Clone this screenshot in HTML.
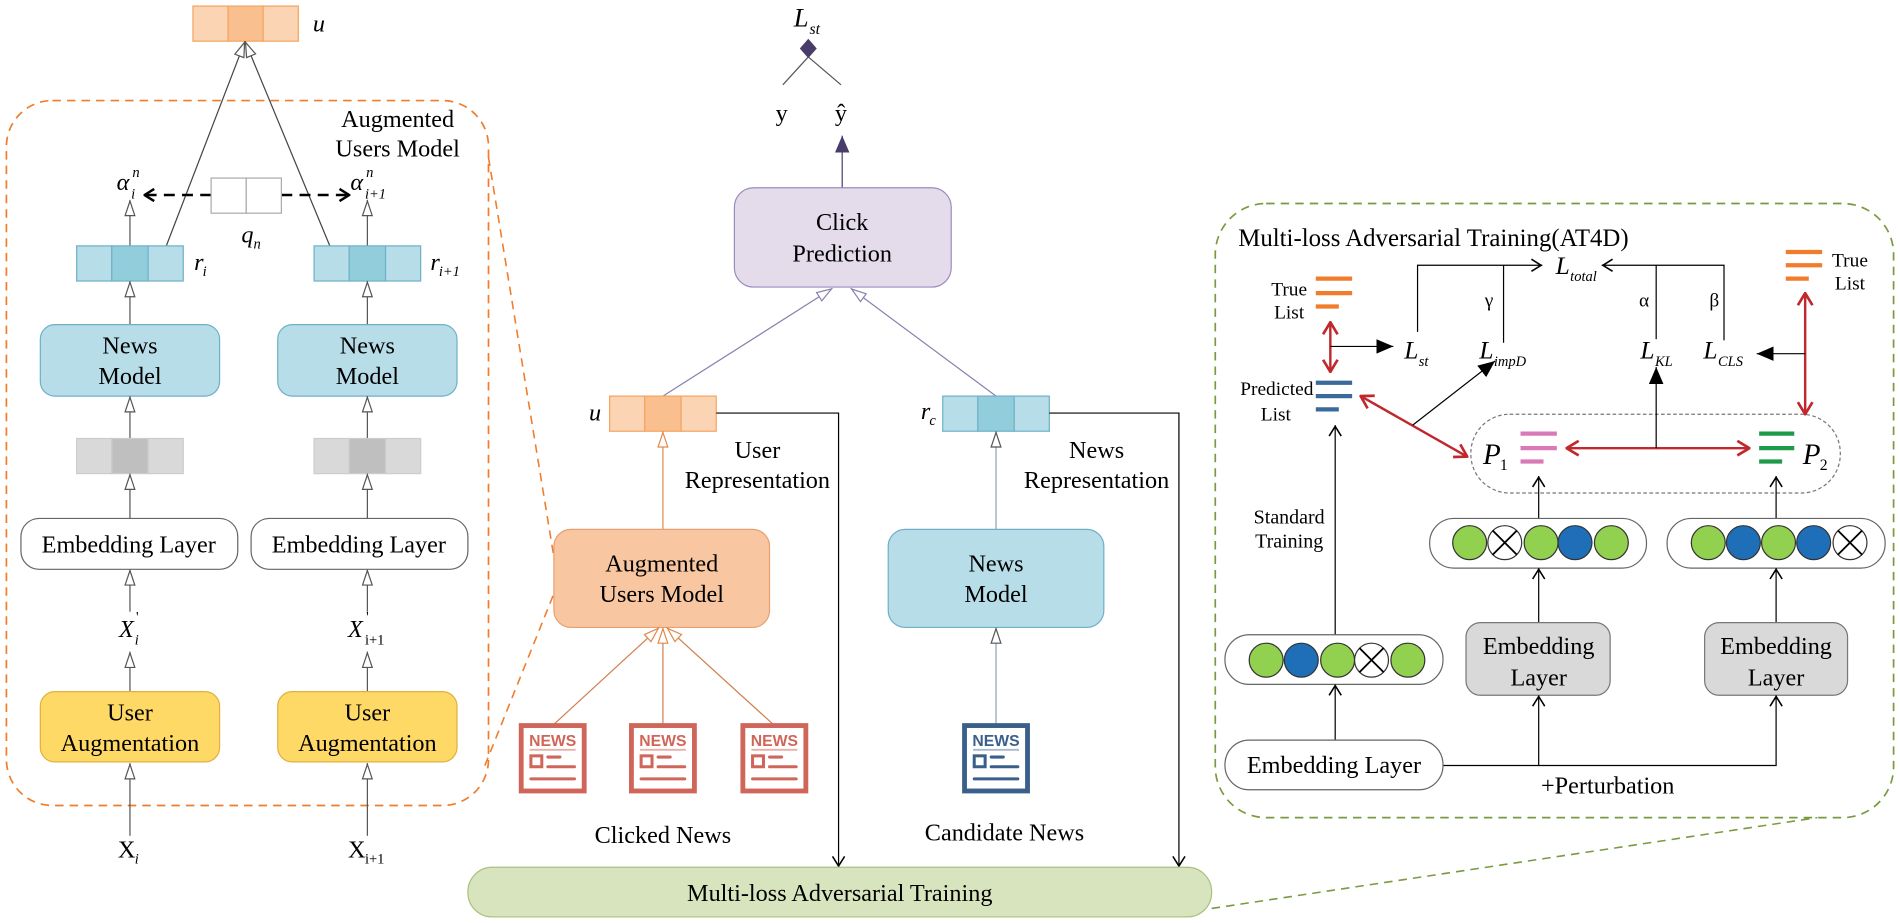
<!DOCTYPE html>
<html><head><meta charset="utf-8"><style>html,body{margin:0;padding:0;background:#fff}svg{display:block}</style></head>
<body>
<svg width="1900" height="923" viewBox="0 0 1568 762" xmlns="http://www.w3.org/2000/svg" font-family="'Liberation Serif', serif" font-size="20">
<defs>
<marker id="hg" viewBox="0 0 14 10" refX="14" refY="5" markerWidth="14" markerHeight="10" markerUnits="userSpaceOnUse" orient="auto"><path d="M1,1 L13,5 L1,9 z" fill="#fff" stroke="#555" stroke-width="1"/></marker>
<marker id="ho" viewBox="0 0 14 10" refX="14" refY="5" markerWidth="14" markerHeight="10" markerUnits="userSpaceOnUse" orient="auto"><path d="M1,1 L13,5 L1,9 z" fill="#fff" stroke="#e08a4a" stroke-width="1"/></marker>
<marker id="hp" viewBox="0 0 14 10" refX="14" refY="5" markerWidth="14" markerHeight="10" markerUnits="userSpaceOnUse" orient="auto"><path d="M1,1 L13,5 L1,9 z" fill="#fff" stroke="#8a80b0" stroke-width="1"/></marker>
<marker id="op" viewBox="0 0 10 12" refX="10" refY="6" markerWidth="10" markerHeight="12" markerUnits="userSpaceOnUse" orient="auto"><path d="M1,1 L9,6 L1,11" fill="none" stroke="#000" stroke-width="1.3"/></marker>
<marker id="opb" viewBox="0 0 10 12" refX="10" refY="6" markerWidth="10" markerHeight="12" markerUnits="userSpaceOnUse" orient="auto"><path d="M1,1 L9,6 L1,11" fill="none" stroke="#000" stroke-width="2"/></marker>
<marker id="fb" viewBox="0 0 14 12" refX="14" refY="6" markerWidth="14" markerHeight="12" markerUnits="userSpaceOnUse" orient="auto"><path d="M0,0 L14,6 L0,12 z" fill="#000"/></marker>
<marker id="fpu" viewBox="0 0 14 12" refX="14" refY="6" markerWidth="14" markerHeight="12" markerUnits="userSpaceOnUse" orient="auto"><path d="M0,0 L14,6 L0,12 z" fill="#4a3c6a"/></marker>
<marker id="rd" viewBox="0 0 12 14" refX="11" refY="7" markerWidth="12" markerHeight="14" markerUnits="userSpaceOnUse" orient="auto-start-reverse"><path d="M1,1 L11,7 L1,13" fill="none" stroke="#c0282d" stroke-width="2.2"/></marker>
<g id="newsR">
<rect x="2" y="2" width="52" height="54" fill="#fff" stroke="#d0665a" stroke-width="4"/>
<text x="28" y="19" text-anchor="middle" font-family="'Liberation Sans',sans-serif" font-weight="bold" font-size="13" fill="#d0665a">NEWS</text>
<line x1="9" y1="22" x2="47" y2="22" stroke="#e9b0a8" stroke-width="1.5"/>
<rect x="10" y="27" width="9" height="9" fill="none" stroke="#d0665a" stroke-width="2.5"/>
<line x1="24" y1="28" x2="34" y2="28" stroke="#d0665a" stroke-width="2.5" stroke-linecap="round"/>
<line x1="24" y1="36" x2="46" y2="36" stroke="#d0665a" stroke-width="2.5" stroke-linecap="round"/>
<line x1="10" y1="46" x2="46" y2="46" stroke="#d0665a" stroke-width="2.5" stroke-linecap="round"/>
</g>
</defs>

<!-- LEFT PANEL -->
<rect x="5" y="83" width="398" height="582" rx="38" fill="none" stroke="#f07c2c" stroke-width="1.4" stroke-dasharray="7,5"/>
<text x="328" y="105" text-anchor="middle">Augmented</text>
<text x="328" y="129" text-anchor="middle">Users Model</text>

<rect x="159" y="5" width="29" height="29" fill="#fbd4b4" stroke="#f4a460"/>
<rect x="188" y="5" width="29" height="29" fill="#f9bf8f" stroke="#f4a460"/>
<rect x="217" y="5" width="29" height="29" fill="#fbd4b4" stroke="#f4a460"/>
<text x="258" y="26" font-style="italic">u</text>
<line x1="137" y1="203" x2="202" y2="34" stroke="#444" marker-end="url(#hg)"/>
<line x1="272" y1="203" x2="202" y2="34" stroke="#444" marker-end="url(#hg)"/>

<text x="96" y="157" font-style="italic" font-size="20">α</text><text x="109" y="146" font-style="italic" font-size="12">n</text><text x="108" y="164" font-style="italic" font-size="12">i</text>
<text x="289" y="157" font-style="italic" font-size="20">α</text><text x="302" y="146" font-style="italic" font-size="12">n</text><text x="301" y="164" font-style="italic" font-size="12">i+1</text>
<line x1="174" y1="161" x2="118" y2="161" stroke="#000" stroke-width="2" stroke-dasharray="9,6" marker-end="url(#opb)"/>
<line x1="232" y1="161" x2="289" y2="161" stroke="#000" stroke-width="2" stroke-dasharray="9,6" marker-end="url(#opb)"/>
<rect x="174" y="147" width="29" height="29" fill="#fff" stroke="#aaa"/>
<rect x="203" y="147" width="29" height="29" fill="#fff" stroke="#aaa"/>
<text x="199" y="200" font-style="italic">q</text><text x="209" y="205" font-style="italic" font-size="12">n</text>

<g id="colL">
<line x1="107" y1="203" x2="107" y2="165" stroke="#555" marker-end="url(#hg)"/>
<rect x="63" y="203" width="29" height="29" fill="#b7dde8" stroke="#6fb0c8"/>
<rect x="92" y="203" width="30" height="29" fill="#92cddc" stroke="#6fb0c8"/>
<rect x="122" y="203" width="29" height="29" fill="#b7dde8" stroke="#6fb0c8"/>
<line x1="107" y1="268" x2="107" y2="232" stroke="#555" marker-end="url(#hg)"/>
<rect x="33" y="268" width="148" height="59" rx="12" fill="#b7dde8" stroke="#6fb0c8"/>
<text x="107" y="292" text-anchor="middle">News</text>
<text x="107" y="317" text-anchor="middle">Model</text>
<line x1="107" y1="362" x2="107" y2="327" stroke="#555" marker-end="url(#hg)"/>
<rect x="63" y="362" width="29" height="29" fill="#d9d9d9" stroke="#ccc"/>
<rect x="92" y="362" width="30" height="29" fill="#bfbfbf" stroke="#ccc"/>
<rect x="122" y="362" width="29" height="29" fill="#d9d9d9" stroke="#ccc"/>
<line x1="107" y1="428" x2="107" y2="391" stroke="#555" marker-end="url(#hg)"/>
<line x1="107" y1="505" x2="107" y2="470" stroke="#555" marker-end="url(#hg)"/>
<line x1="107" y1="571" x2="107" y2="538" stroke="#555" marker-end="url(#hg)"/>
<rect x="33" y="571" width="148" height="58" rx="12" fill="#ffd966" stroke="#e0b040"/>
<text x="107" y="595" text-anchor="middle">User</text>
<text x="107" y="620" text-anchor="middle">Augmentation</text>
<line x1="107" y1="690" x2="107" y2="630" stroke="#555" marker-end="url(#hg)"/>
</g>
<rect x="17" y="428" width="179" height="42" rx="15" fill="#fff" stroke="#666"/>
<text x="106" y="456" text-anchor="middle">Embedding Layer</text>
<use href="#colL" x="196"/>
<rect x="207" y="428" width="179" height="42" rx="15" fill="#fff" stroke="#666"/>
<text x="296" y="456" text-anchor="middle">Embedding Layer</text>
<text x="160" y="223" font-style="italic">r</text><text x="167" y="228" font-style="italic" font-size="12">i</text>
<text x="355" y="223" font-style="italic">r</text><text x="362" y="228" font-style="italic" font-size="12">i+1</text>
<text x="98" y="526" font-style="italic">X</text><text x="112" y="513" font-size="12">'</text><text x="111" y="532" font-style="italic" font-size="12">i</text>
<text x="287" y="526" font-style="italic">X</text><text x="302" y="513" font-size="12">'</text><text x="301" y="532" font-size="12">i+1</text>
<text x="97" y="708">X</text><text x="111" y="713" font-style="italic" font-size="12">i</text>
<text x="287" y="708">X</text><text x="301" y="713" font-size="12">i+1</text>

<line x1="403" y1="130" x2="457" y2="460" stroke="#f07c2c" stroke-width="1.3" stroke-dasharray="7,5"/>
<line x1="400" y1="632" x2="457" y2="490" stroke="#f07c2c" stroke-width="1.3" stroke-dasharray="7,5"/>

<!-- MIDDLE -->
<text x="655" y="22" font-style="italic" font-size="22">L</text><text x="668" y="28" font-style="italic" font-size="13">st</text>
<path d="M667,32 L674,40 L667,48 L660,40 z" fill="#4a3c6a"/>
<line x1="667" y1="47" x2="646" y2="70" stroke="#555"/>
<line x1="667" y1="47" x2="694" y2="70" stroke="#555"/>
<text x="640" y="100">y</text>
<text x="689" y="100">ŷ</text>
<line x1="695" y1="155" x2="695" y2="112" stroke="#4a3c6a" marker-end="url(#fpu)"/>
<rect x="606" y="155" width="179" height="82" rx="16" fill="#e4dcea" stroke="#9b8cc0"/>
<text x="695" y="190" text-anchor="middle">Click</text>
<text x="695" y="216" text-anchor="middle">Prediction</text>
<line x1="547" y1="327" x2="687" y2="238" stroke="#8a80b0" marker-end="url(#hp)"/>
<line x1="822" y1="327" x2="702" y2="238" stroke="#8a80b0" marker-end="url(#hp)"/>

<rect x="503" y="327" width="29" height="29" fill="#fbd4b4" stroke="#f4a460"/>
<rect x="532" y="327" width="30" height="29" fill="#f9bf8f" stroke="#f4a460"/>
<rect x="562" y="327" width="29" height="29" fill="#fbd4b4" stroke="#f4a460"/>
<text x="486" y="347" font-style="italic">u</text>
<rect x="778" y="327" width="29" height="29" fill="#b7dde8" stroke="#6fb0c8"/>
<rect x="807" y="327" width="30" height="29" fill="#92cddc" stroke="#6fb0c8"/>
<rect x="837" y="327" width="29" height="29" fill="#b7dde8" stroke="#6fb0c8"/>
<text x="760" y="346" font-style="italic">r</text><text x="767" y="351" font-style="italic" font-size="12">c</text>

<polyline points="591,341 692,341 692,716" fill="none" stroke="#000" marker-end="url(#op)"/>
<polyline points="866,341 973,341 973,716" fill="none" stroke="#000" marker-end="url(#op)"/>
<text x="625" y="378" text-anchor="middle">User</text>
<text x="625" y="403" text-anchor="middle">Representation</text>
<text x="905" y="378" text-anchor="middle">News</text>
<text x="905" y="403" text-anchor="middle">Representation</text>

<line x1="547" y1="437" x2="547" y2="356" stroke="#e08a4a" marker-end="url(#ho)"/>
<rect x="457" y="437" width="178" height="81" rx="14" fill="#f8c6a0" stroke="#e8a070"/>
<text x="546" y="472" text-anchor="middle">Augmented</text>
<text x="546" y="497" text-anchor="middle">Users Model</text>
<line x1="822" y1="437" x2="822" y2="356" stroke="#8aa0b8" marker-end="url(#hg)"/>
<rect x="733" y="437" width="178" height="81" rx="14" fill="#b7dde8" stroke="#6fb0c8"/>
<text x="822" y="472" text-anchor="middle">News</text>
<text x="822" y="497" text-anchor="middle">Model</text>

<line x1="457" y1="598" x2="544" y2="518" stroke="#d08050" marker-end="url(#ho)"/>
<line x1="547" y1="598" x2="547" y2="518" stroke="#d08050" marker-end="url(#ho)"/>
<line x1="638" y1="598" x2="550" y2="518" stroke="#d08050" marker-end="url(#ho)"/>
<line x1="822" y1="598" x2="822" y2="518" stroke="#8aa0b8" marker-end="url(#hg)"/>
<use href="#newsR" x="428" y="597"/>
<use href="#newsR" x="519" y="597"/>
<use href="#newsR" x="611" y="597"/>
<g transform="translate(794,597)">
<rect x="2" y="2" width="52" height="54" fill="#fff" stroke="#3a5f8a" stroke-width="4"/>
<text x="28" y="19" text-anchor="middle" font-family="'Liberation Sans',sans-serif" font-weight="bold" font-size="13" fill="#3a5f8a">NEWS</text>
<line x1="9" y1="22" x2="47" y2="22" stroke="#a8b8cc" stroke-width="1.5"/>
<rect x="10" y="27" width="9" height="9" fill="none" stroke="#3a5f8a" stroke-width="2.5"/>
<line x1="24" y1="28" x2="34" y2="28" stroke="#3a5f8a" stroke-width="2.5" stroke-linecap="round"/>
<line x1="24" y1="36" x2="46" y2="36" stroke="#3a5f8a" stroke-width="2.5" stroke-linecap="round"/>
<line x1="10" y1="46" x2="46" y2="46" stroke="#3a5f8a" stroke-width="2.5" stroke-linecap="round"/>
</g>
<text x="547" y="696" text-anchor="middle">Clicked News</text>
<text x="829" y="694" text-anchor="middle">Candidate News</text>

<rect x="386" y="716" width="614" height="41" rx="20" fill="#d7e4bd" stroke="#a8c080"/>
<text x="693" y="744" text-anchor="middle">Multi-loss Adversarial Training</text>
<line x1="1000" y1="750" x2="1500" y2="675" stroke="#7a9a40" stroke-width="1.3" stroke-dasharray="7,5"/>

<!-- RIGHT PANEL -->
<rect x="1003" y="168" width="560" height="507" rx="42" fill="none" stroke="#7a9a40" stroke-width="1.4" stroke-dasharray="7,5"/>
<text x="1022" y="203" font-size="20.5">Multi-loss Adversarial Training(AT4D)</text>

<polyline points="1170,274 1170,219 1273,219" fill="none" stroke="#000" marker-end="url(#op)"/>
<line x1="1241" y1="219" x2="1241" y2="283" stroke="#000"/>
<polyline points="1423,281 1423,219 1322,219" fill="none" stroke="#000" marker-end="url(#op)"/>
<line x1="1367" y1="219" x2="1367" y2="280" stroke="#000"/>
<text x="1284" y="226" font-style="italic" font-size="21">L</text><text x="1296" y="232" font-style="italic" font-size="12">total</text>
<text x="1229" y="253" text-anchor="middle" font-size="16">γ</text>
<text x="1357" y="253" text-anchor="middle" font-size="16">α</text>
<text x="1415" y="253" text-anchor="middle" font-size="16">β</text>
<text x="1159" y="296" font-style="italic" font-size="21">L</text><text x="1171" y="302" font-style="italic" font-size="12">st</text>
<text x="1221" y="296" font-style="italic" font-size="21">L</text><text x="1233" y="302" font-style="italic" font-size="12">impD</text>
<text x="1354" y="296" font-style="italic" font-size="21">L</text><text x="1366" y="302" font-style="italic" font-size="12">KL</text>
<text x="1406" y="296" font-style="italic" font-size="21">L</text><text x="1418" y="302" font-style="italic" font-size="12">CLS</text>

<line x1="1086" y1="230" x2="1116" y2="230" stroke="#f07c2c" stroke-width="3.5"/>
<line x1="1086" y1="242" x2="1116" y2="242" stroke="#f07c2c" stroke-width="3.5"/>
<line x1="1086" y1="253" x2="1105" y2="253" stroke="#f07c2c" stroke-width="3.5"/>
<text x="1064" y="244" text-anchor="middle" font-size="16">True</text>
<text x="1064" y="263" text-anchor="middle" font-size="16">List</text>
<line x1="1098" y1="266" x2="1098" y2="307" stroke="#c0282d" stroke-width="2" marker-start="url(#rd)" marker-end="url(#rd)"/>
<line x1="1098" y1="286" x2="1150" y2="286" stroke="#000" marker-end="url(#fb)"/>
<line x1="1086" y1="316" x2="1116" y2="316" stroke="#3a6a9a" stroke-width="3.5"/>
<line x1="1086" y1="327" x2="1116" y2="327" stroke="#3a6a9a" stroke-width="3.5"/>
<line x1="1086" y1="338" x2="1105" y2="338" stroke="#3a6a9a" stroke-width="3.5"/>
<text x="1084" y="326" text-anchor="end" font-size="16">Predicted</text>
<text x="1053" y="347" text-anchor="middle" font-size="16">List</text>
<line x1="1123" y1="327" x2="1211" y2="377" stroke="#c0282d" stroke-width="2" marker-start="url(#rd)" marker-end="url(#rd)"/>
<line x1="1166" y1="351" x2="1234" y2="298" stroke="#000" marker-end="url(#fb)"/>

<rect x="1214" y="342" width="305" height="65" rx="32" fill="none" stroke="#777" stroke-dasharray="3,2"/>
<text x="1224" y="383" font-style="italic" font-size="24">P</text><text x="1238" y="388" font-size="13">1</text>
<line x1="1255" y1="358" x2="1285" y2="358" stroke="#d97ab8" stroke-width="3.5"/>
<line x1="1255" y1="370" x2="1285" y2="370" stroke="#d97ab8" stroke-width="3.5"/>
<line x1="1255" y1="381" x2="1274" y2="381" stroke="#d97ab8" stroke-width="3.5"/>
<line x1="1452" y1="358" x2="1481" y2="358" stroke="#1f9a4a" stroke-width="3.5"/>
<line x1="1452" y1="370" x2="1481" y2="370" stroke="#1f9a4a" stroke-width="3.5"/>
<line x1="1452" y1="381" x2="1471" y2="381" stroke="#1f9a4a" stroke-width="3.5"/>
<text x="1488" y="383" font-style="italic" font-size="24">P</text><text x="1502" y="388" font-size="13">2</text>
<line x1="1293" y1="370" x2="1444" y2="370" stroke="#c0282d" stroke-width="2" marker-start="url(#rd)" marker-end="url(#rd)"/>
<line x1="1367" y1="370" x2="1367" y2="303" stroke="#000" marker-end="url(#fb)"/>

<line x1="1474" y1="208" x2="1504" y2="208" stroke="#f07c2c" stroke-width="3.5"/>
<line x1="1474" y1="219" x2="1504" y2="219" stroke="#f07c2c" stroke-width="3.5"/>
<line x1="1474" y1="230" x2="1493" y2="230" stroke="#f07c2c" stroke-width="3.5"/>
<text x="1527" y="220" text-anchor="middle" font-size="16">True</text>
<text x="1527" y="239" text-anchor="middle" font-size="16">List</text>
<line x1="1490" y1="242" x2="1490" y2="342" stroke="#c0282d" stroke-width="2" marker-start="url(#rd)" marker-end="url(#rd)"/>
<line x1="1490" y1="292" x2="1450" y2="292" stroke="#000" marker-end="url(#fb)"/>

<line x1="1102" y1="524" x2="1102" y2="351" stroke="#000" marker-end="url(#op)"/>
<text x="1064" y="432" text-anchor="middle" font-size="16.5">Standard</text>
<text x="1064" y="452" text-anchor="middle" font-size="16.5">Training</text>
<line x1="1270" y1="428" x2="1270" y2="393" stroke="#000" marker-end="url(#op)"/>
<line x1="1466" y1="428" x2="1466" y2="393" stroke="#000" marker-end="url(#op)"/>

<rect x="1180" y="428" width="179" height="41" rx="20" fill="#fff" stroke="#666"/>
<g stroke="#333" stroke-width="1">
<circle cx="1213" cy="448" r="14" fill="#92d050"/>
<circle cx="1242" cy="448" r="14" fill="#fff"/>
<circle cx="1272" cy="448" r="14" fill="#92d050"/>
<circle cx="1300" cy="448" r="14" fill="#1f6fb8"/>
<circle cx="1330" cy="448" r="14" fill="#92d050"/>
</g>
<path d="M1232,438 L1252,458 M1252,438 L1232,458" stroke="#000" stroke-width="1.5"/>

<rect x="1376" y="428" width="180" height="41" rx="20" fill="#fff" stroke="#666"/>
<g stroke="#333" stroke-width="1">
<circle cx="1410" cy="448" r="14" fill="#92d050"/>
<circle cx="1439" cy="448" r="14" fill="#1f6fb8"/>
<circle cx="1468" cy="448" r="14" fill="#92d050"/>
<circle cx="1497" cy="448" r="14" fill="#1f6fb8"/>
<circle cx="1527" cy="448" r="14" fill="#fff"/>
</g>
<path d="M1517,438 L1537,458 M1537,438 L1517,458" stroke="#000" stroke-width="1.5"/>

<rect x="1011" y="524" width="180" height="41" rx="20" fill="#fff" stroke="#666"/>
<g stroke="#333" stroke-width="1">
<circle cx="1045" cy="545" r="14" fill="#92d050"/>
<circle cx="1074" cy="545" r="14" fill="#1f6fb8"/>
<circle cx="1104" cy="545" r="14" fill="#92d050"/>
<circle cx="1132" cy="545" r="14" fill="#fff"/>
<circle cx="1162" cy="545" r="14" fill="#92d050"/>
</g>
<path d="M1122,535 L1142,555 M1142,535 L1122,555" stroke="#000" stroke-width="1.5"/>

<line x1="1270" y1="514" x2="1270" y2="469" stroke="#000" marker-end="url(#op)"/>
<line x1="1466" y1="514" x2="1466" y2="469" stroke="#000" marker-end="url(#op)"/>
<rect x="1210" y="514" width="119" height="60" rx="12" fill="#d9d9d9" stroke="#777"/>
<text x="1270" y="540" text-anchor="middle">Embedding</text>
<text x="1270" y="566" text-anchor="middle">Layer</text>
<rect x="1407" y="514" width="118" height="60" rx="12" fill="#d9d9d9" stroke="#777"/>
<text x="1466" y="540" text-anchor="middle">Embedding</text>
<text x="1466" y="566" text-anchor="middle">Layer</text>

<line x1="1102" y1="611" x2="1102" y2="565" stroke="#000" marker-end="url(#op)"/>
<polyline points="1191,632 1466,632 1466,574" fill="none" stroke="#000" marker-end="url(#op)"/>
<line x1="1270" y1="632" x2="1270" y2="574" stroke="#000" marker-end="url(#op)"/>
<rect x="1011" y="611" width="180" height="41" rx="20" fill="#fff" stroke="#666"/>
<text x="1101" y="638" text-anchor="middle">Embedding Layer</text>
<text x="1327" y="655" text-anchor="middle">+Perturbation</text>
</svg>
</body></html>
